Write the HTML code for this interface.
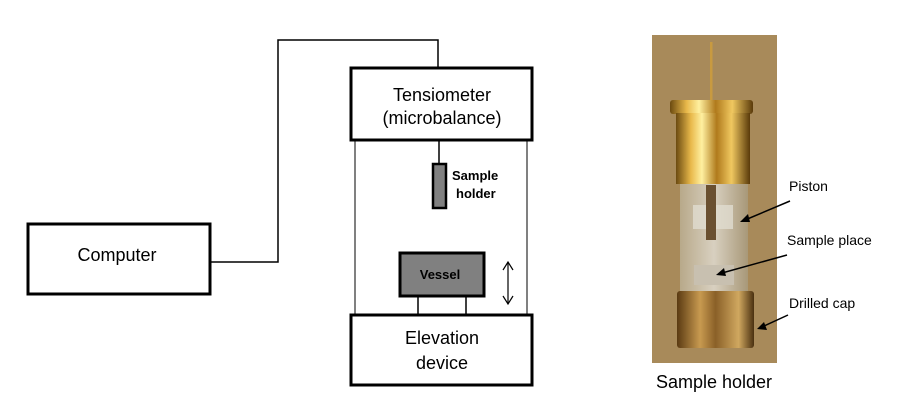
<!DOCTYPE html>
<html><head><style>html,body{margin:0;padding:0;background:#fff}svg{display:block}</style></head>
<body>
<svg width="900" height="403" viewBox="0 0 900 403" xmlns="http://www.w3.org/2000/svg" font-family="Liberation Sans, Arial, sans-serif">
<defs>
<linearGradient id="gold" x1="0" x2="1" y1="0" y2="0">
<stop offset="0" stop-color="#6b4a10"/><stop offset="0.2" stop-color="#e8b84a"/><stop offset="0.35" stop-color="#fff0a0"/><stop offset="0.55" stop-color="#b07a1c"/><stop offset="0.75" stop-color="#f0c860"/><stop offset="1" stop-color="#5a3a0a"/>
</linearGradient>
<linearGradient id="glass" x1="0" x2="1"><stop offset="0" stop-color="#b8a98a"/><stop offset="0.5" stop-color="#d8d0c0"/><stop offset="1" stop-color="#a89878"/></linearGradient>
<linearGradient id="bcap" x1="0" x2="1"><stop offset="0" stop-color="#5a3a12"/><stop offset="0.3" stop-color="#c89a50"/><stop offset="0.5" stop-color="#8a6028"/><stop offset="0.8" stop-color="#d0a860"/><stop offset="1" stop-color="#4a3010"/></linearGradient>
</defs>
<!-- connector -->
<polyline points="210,262 278,262 278,40 438,40 438,68" fill="none" stroke="#000" stroke-width="1.5"/>
<!-- computer -->
<rect x="28" y="224" width="182" height="70" fill="#fff" stroke="#000" stroke-width="3"/>
<text x="117" y="261" font-size="18" text-anchor="middle">Computer</text>
<!-- tensiometer -->
<rect x="351" y="68" width="181" height="72" fill="#fff" stroke="#000" stroke-width="3"/>
<text x="442" y="101" font-size="18" text-anchor="middle">Tensiometer</text>
<text x="442" y="124" font-size="18" text-anchor="middle">(microbalance)</text>
<line x1="355" y1="140" x2="355" y2="315" stroke="#000" stroke-width="1"/>
<line x1="527" y1="140" x2="527" y2="315" stroke="#000" stroke-width="1"/>
<line x1="439" y1="140" x2="439" y2="164" stroke="#000" stroke-width="1.5"/>
<rect x="433" y="164" width="13" height="44" fill="#808080" stroke="#000" stroke-width="2.5"/>
<text x="452" y="180" font-size="13" font-weight="bold">Sample</text>
<text x="456" y="198" font-size="13" font-weight="bold">holder</text>
<!-- vessel -->
<rect x="400" y="253" width="84" height="43" fill="#808080" stroke="#000" stroke-width="3"/>
<text x="440" y="279" font-size="13" font-weight="bold" text-anchor="middle">Vessel</text>
<line x1="418" y1="296" x2="418" y2="315" stroke="#000" stroke-width="1.5"/>
<line x1="466" y1="296" x2="466" y2="315" stroke="#000" stroke-width="1.5"/>
<line x1="508" y1="262" x2="508" y2="304" stroke="#000" stroke-width="1.2"/>
<polyline points="503,270 508,262 513,270" fill="none" stroke="#000" stroke-width="1.2"/>
<polyline points="503,296 508,304 513,296" fill="none" stroke="#000" stroke-width="1.2"/>
<!-- elevation -->
<rect x="351" y="315" width="181" height="70" fill="#fff" stroke="#000" stroke-width="3"/>
<text x="442" y="344" font-size="18" text-anchor="middle">Elevation</text>
<text x="442" y="369" font-size="18" text-anchor="middle">device</text>
<!-- photo -->
<rect x="652" y="35" width="125" height="328" fill="#a88a5a"/>
<rect x="710" y="42" width="2.5" height="60" fill="#c89a40"/>
<rect x="680" y="183" width="68" height="108" fill="url(#glass)"/>
<rect x="693" y="205" width="40" height="24" fill="#e0dcd0" opacity="0.8"/>
<rect x="706" y="185" width="10" height="55" fill="#6a5030"/>
<rect x="694" y="265" width="40" height="20" fill="#c8c0b0"/>
<rect x="670" y="100" width="83" height="14" rx="3" fill="url(#gold)"/>
<rect x="676" y="113" width="74" height="71" fill="url(#gold)"/>
<rect x="677" y="291" width="77" height="57" rx="3" fill="url(#bcap)"/>
<!-- photo labels -->
<text x="789" y="191" font-size="14">Piston</text>
<text x="787" y="245" font-size="14">Sample place</text>
<text x="789" y="308" font-size="14">Drilled cap</text>
<line x1="790" y1="201" x2="745" y2="220" stroke="#000" stroke-width="1.5"/>
<polygon points="740,222 748,214 750,222" fill="#000"/>
<line x1="787" y1="255" x2="722" y2="273" stroke="#000" stroke-width="1.5"/>
<polygon points="716,275 724,268 726,276" fill="#000"/>
<line x1="788" y1="315" x2="762" y2="327" stroke="#000" stroke-width="1.5"/>
<polygon points="757,329 764,322 767,330" fill="#000"/>
<text x="714" y="388" font-size="18" text-anchor="middle">Sample holder</text>
</svg>
</body></html>
